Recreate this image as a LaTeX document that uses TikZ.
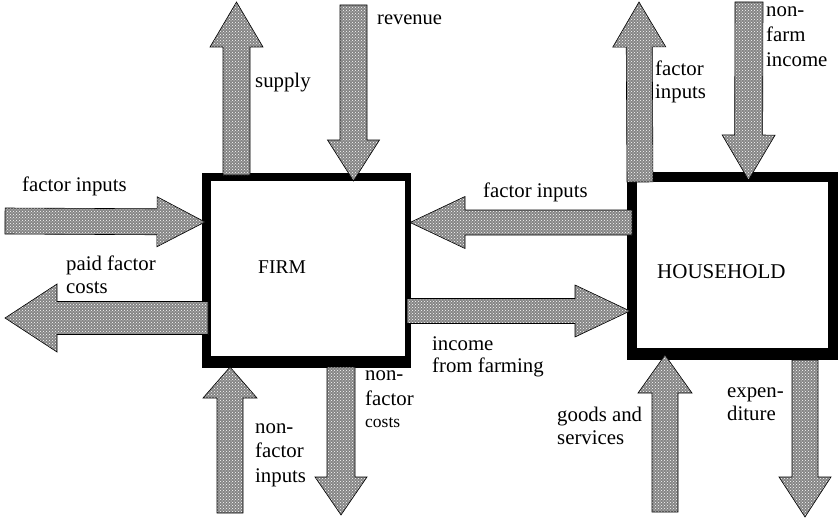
\documentclass[tikz,border=0pt]{standalone}
\usepackage{fontspec}
\setmainfont{Liberation Serif}
\usetikzlibrary{calc,patterns}
\newcommand{\lbl}[1]{\begin{tabular}[t]{@{}l@{}}#1\end{tabular}}
\newcommand{\blockarrow}[5]{%
  \coordinate (ba-t) at #1;
  \coordinate (ba-p) at #2;
  \coordinate (ba-b) at ($(ba-p)!#5!(ba-t)$);
  \draw[barrow] ($(ba-t)!#3!90:(ba-p)$) -- ($(ba-b)!#3!90:(ba-p)$) -- ($(ba-b)!#4!90:(ba-p)$) -- (ba-p)
     -- ($(ba-b)!#4!-90:(ba-p)$) -- ($(ba-b)!#3!-90:(ba-p)$) -- ($(ba-t)!#3!-90:(ba-p)$) -- cycle;
}
\tikzset{
  barrow/.style={draw=black, line width=0.6pt, preaction={fill=black!48}, pattern=crosshatch dots, pattern color=white},
  boxouter/.style={fill=black, draw=none, inner sep=0pt},
  boxinner/.style={fill=white, draw=none, inner sep=0pt},
  lab/.style={anchor=base west, inner sep=0pt, font=\fontsize{20.8}{24}\selectfont},
}
\begin{document}
\begin{tikzpicture}[x=1pt,y=-1pt]
\useasboundingbox (0,0) rectangle (838,519);
% boxes
\node[boxouter, minimum width=209pt, minimum height=195pt] (firm) at (306.5,270.5) {};
\node[boxinner, minimum width=194pt, minimum height=175pt] (firmin) at (308,268.5) {};
\node[boxouter, minimum width=211pt, minimum height=188pt] (hh) at (732.5,266) {};
\node[boxinner, minimum width=191pt, minimum height=166pt] (hhin) at (732.5,265) {};
\node[lab, font=\fontsize{19.5}{24}\selectfont] (tfirm) at (258,273) {FIRM};
\node[lab, font=\fontsize{21}{24}\selectfont] (thh) at (657,278) {HOUSEHOLD};
% arrows
\blockarrow{(5,221)}{(205,222)}{13pt}{25pt}{48pt}
\blockarrow{(208,318)}{(5,318)}{16.5pt}{34pt}{52pt}
\blockarrow{(236.5,175)}{(236.5,2)}{13.5pt}{26.5pt}{45pt}
\blockarrow{(353.5,5)}{(353.5,181)}{13.5pt}{26pt}{41pt}
\blockarrow{(230,513)}{(230,367)}{13pt}{27pt}{31pt}
\blockarrow{(341,367)}{(341,515)}{14pt}{26pt}{38pt}
\blockarrow{(632,222.5)}{(410,222.5)}{12.5pt}{26pt}{55pt}
\blockarrow{(407,311)}{(630,311)}{12.5pt}{26pt}{55pt}
\blockarrow{(640,182)}{(639,2)}{13pt}{26.5pt}{45pt}
\blockarrow{(749,2)}{(748.5,180)}{14pt}{26.5pt}{45pt}
\blockarrow{(665,512)}{(665,355)}{13pt}{27pt}{38pt}
\blockarrow{(805,360)}{(805,517)}{13pt}{26pt}{40pt}
% labels
\node[lab] (l1) at (22,191) {factor inputs};
\node[lab, font=\fontsize{20.8}{23}\selectfont] (l2) at (66,270) {\lbl{paid factor\\costs}};
\node[lab] (l3) at (255,88) {supply};
\node[lab, font=\fontsize{20.5}{24}\selectfont] (l4) at (377,25) {revenue};
\node[lab] (l5) at (483,197) {factor inputs};
\node[lab, font=\fontsize{20.8}{22}\selectfont] (l6) at (432,350) {\lbl{income\\ from farming}};
\node[lab, font=\fontsize{20.8}{25}\selectfont] (l7a) at (365,380) {\lbl{non-\\factor}};
\node[lab, font=\fontsize{17.5}{20}\selectfont] (l7b) at (365,427) {costs};
\node[lab, font=\fontsize{20.8}{24.5}\selectfont] (l8) at (255,433) {\lbl{non-\\factor\\inputs}};
\node[lab, font=\fontsize{20.8}{23}\selectfont] (l9) at (655,75) {\lbl{factor\\inputs}};
\node[lab, font=\fontsize{20.8}{25}\selectfont] (l10) at (766,17) {\lbl{non-\\farm\\income}};
\node[lab, font=\fontsize{20.8}{23}\selectfont] (l11) at (557,421) {\lbl{goods and\\services}};
\node[lab, font=\fontsize{20.8}{23}\selectfont] (l12) at (727,397) {\lbl{expen-\\diture}};
\end{tikzpicture}
\end{document}
